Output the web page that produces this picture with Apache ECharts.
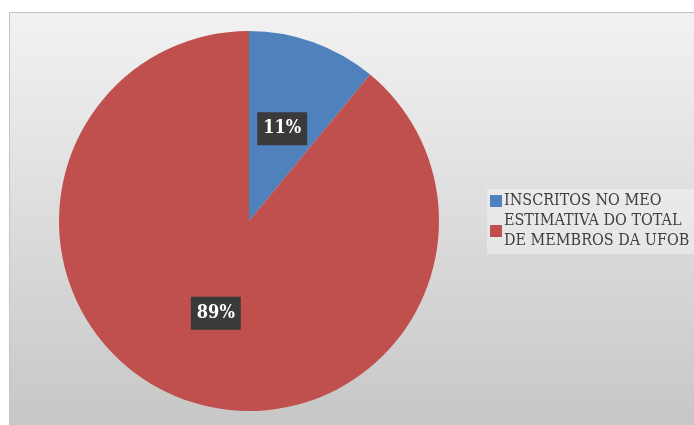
<!DOCTYPE html>
<html>
<head>
<meta charset="utf-8">
<script src="https://cdn.jsdelivr.net/npm/echarts@6/dist/echarts.min.js"></script>
<style>
  html, body { margin: 0; padding: 0; background: #ffffff; }
  #chart { width: 694px; height: 425px; }
</style>
</head>
<body>
<div id="chart"></div>
<script>
// Categories and their values (percent of the total)
const categories = ['INSCRITOS NO MEO', 'ESTIMATIVA DO TOTAL DE MEMBROS DA UFOB'];
const values = [11, 89];
const colors = ['#4f81bd', '#c0504d'];
// Legend text, wrapped as it is displayed
const legendLabels = ['INSCRITOS NO MEO', 'ESTIMATIVA DO TOTAL\nDE MEMBROS DA UFOB'];

const FONT = '"DejaVu Serif Condensed", "DejaVu Serif", serif';

const chart = echarts.init(document.getElementById('chart'), null, { renderer: 'canvas' });

chart.setOption({
  animation: false,
  backgroundColor: '#ffffff',
  graphic: [{
    type: 'rect',
    z: -10,
    shape: { x: 9.5, y: 12.5, width: 700, height: 420 },
    style: {
      fill: new echarts.graphic.LinearGradient(0, 0, 0, 1, [
        { offset: 0, color: '#f2f2f2' },
        { offset: 1, color: '#c6c6c6' }
      ]),
      stroke: '#c4c4c4',
      lineWidth: 1
    }
  }],
  legend: {
    orient: 'vertical',
    left: 487,
    top: 189,
    padding: [2, 6, 3, 3],
    itemGap: 0,
    itemWidth: 12,
    itemHeight: 12,
    icon: 'rect',
    backgroundColor: 'rgba(255,255,255,0.35)',
    data: categories,
    formatter: function (name) {
      return legendLabels[categories.indexOf(name)];
    },
    textStyle: {
      fontFamily: FONT,
      fontSize: 16,
      lineHeight: 20,
      color: '#404040',
      padding: [0, 0, 0, -3]
    }
  },
  series: [{
    type: 'pie',
    center: [249, 221],
    radius: 190,
    startAngle: 90,
    clockwise: true,
    silent: true,
    itemStyle: { borderWidth: 0 },
    label: {
      show: true,
      position: 'inside',
      formatter: '{d}%',
      fontFamily: FONT,
      fontWeight: 'bold',
      fontSize: 18,
      lineHeight: 20,
      color: '#ffffff',
      backgroundColor: '#3a3a3a',
      padding: [8, 6, 5, 6]
    },
    labelLine: { show: false },
    data: categories.map((name, i) => ({
      name: name,
      value: values[i],
      itemStyle: { color: colors[i] }
    }))
  }]
});
</script>
</body>
</html>
